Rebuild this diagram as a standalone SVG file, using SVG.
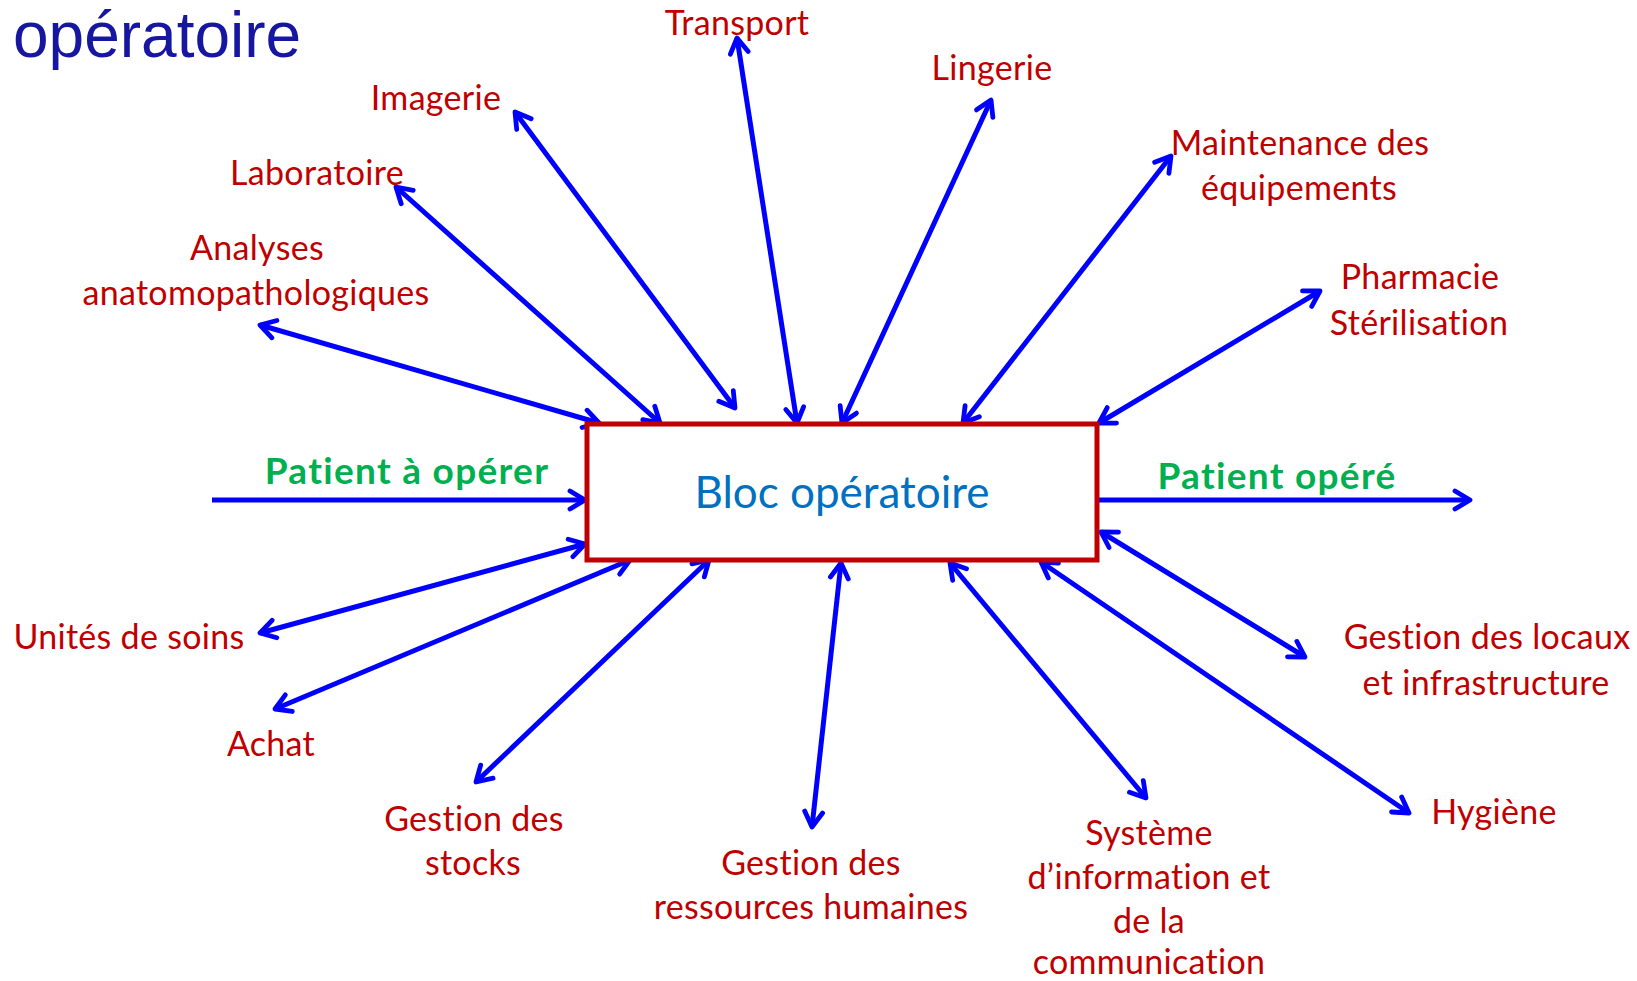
<svg xmlns="http://www.w3.org/2000/svg" width="1637" height="981" viewBox="0 0 1637 981">
<style>
.lbl{font-family:Lato,"Liberation Sans",sans-serif;font-size:34px;letter-spacing:0.3px;fill:#C00000;text-anchor:middle}
.pat{font-family:Lato,"Liberation Sans",sans-serif;font-size:37px;letter-spacing:1.3px;font-weight:bold;fill:#00B050;text-anchor:middle}
.conn line{stroke:#0000FF;stroke-width:5;stroke-linecap:butt}
</style>
<defs>
<marker id="ah" viewBox="-18 -12 22 24" refX="0" refY="0" markerWidth="22" markerHeight="24" markerUnits="userSpaceOnUse" orient="auto-start-reverse">
<path d="M-15,-9 L0,0 L-15,9" fill="none" stroke="#0000FF" stroke-width="4.8" stroke-linecap="round" stroke-linejoin="round"/>
</marker>
</defs>
<rect width="1637" height="981" fill="#FFFFFF"/>
<text x="13" y="57" font-family="'Liberation Sans',Arial,sans-serif" font-size="64" fill="#1616A0">opératoire</text>

<g id="connectors" class="conn">
<line x1="260" y1="325" x2="599" y2="423" marker-start="url(#ah)" marker-end="url(#ah)"/>
<line x1="396" y1="187" x2="660" y2="423" marker-start="url(#ah)" marker-end="url(#ah)"/>
<line x1="515" y1="112" x2="735" y2="408" marker-start="url(#ah)" marker-end="url(#ah)"/>
<line x1="737" y1="38" x2="797" y2="423" marker-start="url(#ah)" marker-end="url(#ah)"/>
<line x1="991" y1="100" x2="842" y2="423" marker-start="url(#ah)" marker-end="url(#ah)"/>
<line x1="1171" y1="156" x2="963" y2="423" marker-start="url(#ah)" marker-end="url(#ah)"/>
<line x1="1320" y1="291" x2="1099" y2="423" marker-start="url(#ah)" marker-end="url(#ah)"/>
<line x1="212" y1="500" x2="585" y2="500" marker-end="url(#ah)"/>
<line x1="1099" y1="500" x2="1470" y2="500" marker-end="url(#ah)"/>
<line x1="260" y1="633" x2="585" y2="544" marker-start="url(#ah)" marker-end="url(#ah)"/>
<line x1="275" y1="709" x2="630" y2="560" marker-start="url(#ah)" marker-end="url(#ah)"/>
<line x1="476" y1="782" x2="709" y2="560" marker-start="url(#ah)" marker-end="url(#ah)"/>
<line x1="812" y1="827" x2="841" y2="563" marker-start="url(#ah)" marker-end="url(#ah)"/>
<line x1="1146" y1="798" x2="950" y2="563" marker-start="url(#ah)" marker-end="url(#ah)"/>
<line x1="1409" y1="813" x2="1041" y2="562" marker-start="url(#ah)" marker-end="url(#ah)"/>
<line x1="1305" y1="657" x2="1101" y2="532" marker-start="url(#ah)" marker-end="url(#ah)"/>
</g>

<g id="bloc">
<rect x="587" y="424" width="510" height="136" fill="#FFFFFF" stroke="#C00000" stroke-width="5"/>
<text x="842" y="508" font-family="Lato,'Liberation Sans',sans-serif" font-size="44" fill="#0070C0" text-anchor="middle">Bloc opératoire</text>
</g>

<g id="patient-in"><text class="pat" x="407" y="484">Patient à opérer</text></g>
<g id="patient-out"><text class="pat" x="1277" y="489">Patient opéré</text></g>

<g id="transport"><text class="lbl" x="737" y="35">Transport</text></g>
<g id="imagerie"><text class="lbl" x="436" y="110">Imagerie</text></g>
<g id="laboratoire"><text class="lbl" x="317" y="185">Laboratoire</text></g>
<g id="analyses"><text class="lbl" x="257" y="260">Analyses</text><text class="lbl" x="256" y="305">anatomopathologiques</text></g>
<g id="lingerie"><text class="lbl" x="992" y="80">Lingerie</text></g>
<g id="maintenance"><text class="lbl" x="1300" y="155">Maintenance des</text><text class="lbl" x="1299" y="200">équipements</text></g>
<g id="pharmacie"><text class="lbl" x="1420" y="289">Pharmacie</text><text class="lbl" x="1419" y="335">Stérilisation</text></g>
<g id="unites"><text class="lbl" x="129" y="649">Unités de soins</text></g>
<g id="achat"><text class="lbl" x="271" y="756">Achat</text></g>
<g id="stocks"><text class="lbl" x="474" y="831">Gestion des</text><text class="lbl" x="473" y="875">stocks</text></g>
<g id="rh"><text class="lbl" x="811" y="875">Gestion des</text><text class="lbl" x="811" y="919">ressources humaines</text></g>
<g id="si"><text class="lbl" x="1149" y="845">Système</text><text class="lbl" x="1149" y="889">d’information et</text><text class="lbl" x="1149" y="933">de la</text><text class="lbl" x="1149" y="974">communication</text></g>
<g id="hygiene"><text class="lbl" x="1494" y="824">Hygiène</text></g>
<g id="locaux"><text class="lbl" x="1487" y="649">Gestion des locaux</text><text class="lbl" x="1486" y="695">et infrastructure</text></g>
</svg>
